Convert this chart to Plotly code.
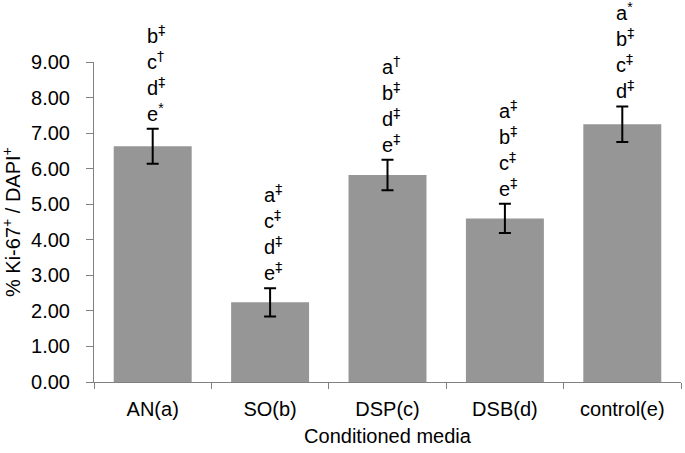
import plotly.graph_objects as go

categories = ["AN(a)", "SO(b)", "DSP(c)", "DSB(d)", "control(e)"]
values = [6.63, 2.24, 5.82, 4.60, 7.25]
errors = [0.49, 0.40, 0.43, 0.41, 0.50]
sig_labels = [
    ["b‡", "c†", "d‡", "e*"],
    ["a‡", "c‡", "d‡", "e‡"],
    ["a†", "b‡", "d‡", "e‡"],
    ["a‡", "b‡", "c‡", "e‡"],
    ["a*", "b‡", "c‡", "d‡"],
]
y_ticks = [0, 1, 2, 3, 4, 5, 6, 7, 8, 9]
y_title = "% Ki-67<sup>+</sup> / DAPI<sup>+</sup>"

FONT = "Liberation Sans, DejaVu Sans, Arial, sans-serif"
SYM = "DejaVu Sans"


def mark(sym):
    if sym == "*":
        return "<sup><span style='color:#000000'>*</span></sup>"
    return "<sup><span style='font-family:" + SYM + ";color:#000000'>" + sym + "</span></sup>"


fig = go.Figure()
fig.add_trace(go.Bar(
    x=categories, y=values,
    marker=dict(color="#969696", line=dict(width=0)),
    error_y=dict(type="data", array=errors, color="black", thickness=2, width=6),
    showlegend=False,
))

for cat, v, e, labs in zip(categories, values, errors, sig_labels):
    txt = "<br>".join(l[0] + mark(l[1:]) for l in labs)
    fig.add_annotation(x=cat, y=v + e, text=txt, showarrow=False,
                       yanchor="bottom", xanchor="left", xshift=-8, yshift=2,
                       align="left", font=dict(size=20, color="black", family=FONT))

fig.add_annotation(xref="paper", yref="paper", x=0, y=0.5, xshift=-83,
                   xanchor="center", yanchor="middle", textangle=-90,
                   text=y_title, showarrow=False,
                   font=dict(size=20, color="black", family=FONT))

fig.update_layout(
    width=685, height=453,
    margin=dict(l=94, r=4, t=62, b=71),
    plot_bgcolor="white", paper_bgcolor="white",
    font=dict(family=FONT, size=20, color="black"),
    bargap=0.336,
    xaxis=dict(
        title=dict(text="Conditioned media", font=dict(size=20), standoff=9),
        showline=True, linecolor="#808080", linewidth=1,
        ticks="outside", tickson="boundaries", ticklen=6, tickcolor="#808080",
        tickfont=dict(size=20), ticklabelstandoff=9, automargin=False,
    ),
    yaxis=dict(
        range=[0, 9], tickvals=y_ticks, tickformat=".2f",
        showline=True, linecolor="#808080", linewidth=1,
        ticks="outside", ticklen=7, tickcolor="#808080",
        showgrid=False, zeroline=False, tickfont=dict(size=20),
        ticklabelstandoff=12, automargin=False,
    ),
)

fig.write_html("out.html", config={"displayModeBar": False},
               post_script="document.body.style.margin='0';")
